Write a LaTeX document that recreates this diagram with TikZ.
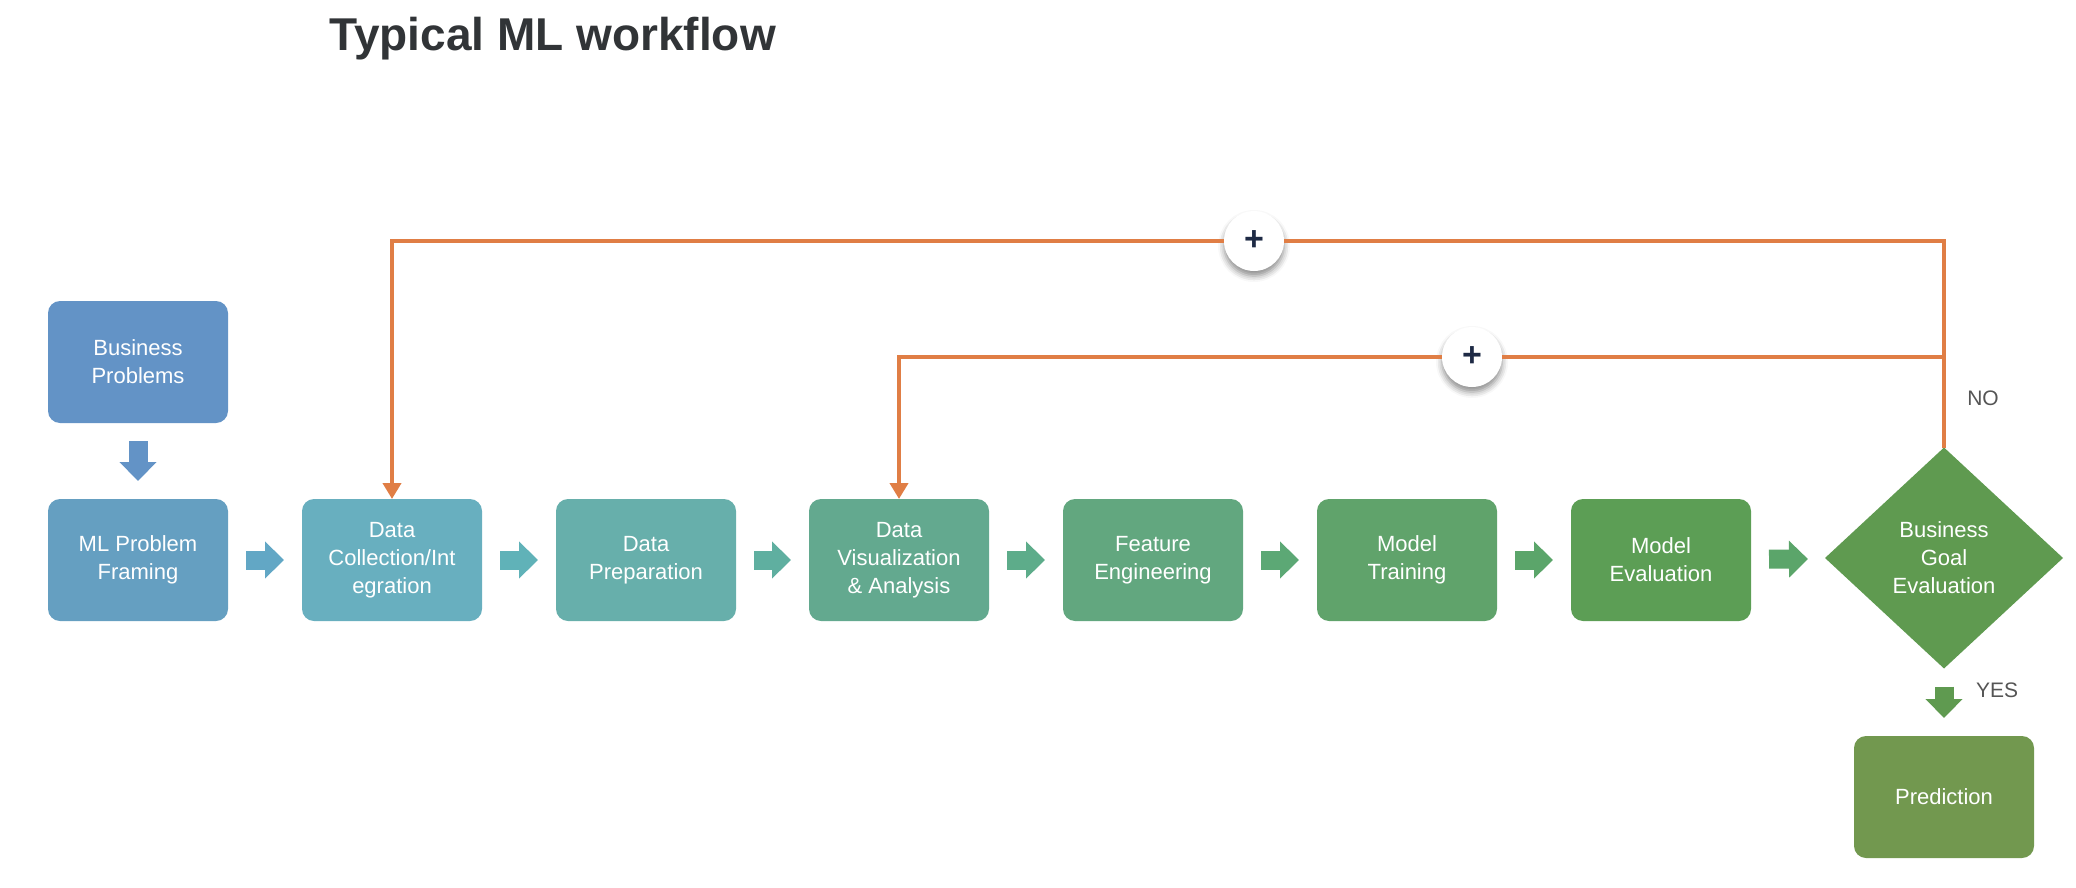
\documentclass[tikz,border=0pt]{standalone}
\usepackage{fontspec}
\setmainfont{Liberation Sans}
\usepackage{tikz}
\usetikzlibrary{positioning}
\usetikzlibrary{shapes.geometric}
\usetikzlibrary{arrows.meta}
\usetikzlibrary{shadows.blur}

\definecolor{titlegray}{HTML}{313437}
\definecolor{labelgray}{HTML}{555555}
\definecolor{loopcol}{HTML}{E07E45}
\definecolor{plusnavy}{HTML}{1E2A45}
\definecolor{bizcol}{HTML}{6393C6}
\definecolor{framecol}{HTML}{659FC1}
\definecolor{collectcol}{HTML}{68AFBF}
\definecolor{prepcol}{HTML}{67AFAB}
\definecolor{viscol}{HTML}{63A98F}
\definecolor{featcol}{HTML}{62A77F}
\definecolor{traincol}{HTML}{60A36B}
\definecolor{evalcol}{HTML}{5C9E55}
\definecolor{goalcol}{HTML}{5F9A50}
\definecolor{predcol}{HTML}{72984F}
\definecolor{arrowA}{HTML}{62A7C5}
\definecolor{arrowB}{HTML}{60B2B8}
\definecolor{arrowC}{HTML}{5FAFA0}
\definecolor{arrowD}{HTML}{5DAC8A}
\definecolor{arrowE}{HTML}{5CA875}
\definecolor{arrowF}{HTML}{5BA56A}

\tikzset{
	stage/.style={rounded corners=6pt, minimum width=90pt, minimum height=61pt, inner sep=0pt, outer sep=0pt,
		text=white, align=center, font=\fontsize{11}{14}\selectfont},
	decision/.style={diamond, aspect=1.077, minimum width=119pt, minimum height=110.5pt, inner sep=0pt, outer sep=0pt,
		text=white, align=center, font=\fontsize{11}{14}\selectfont},
	blockarrow/.style={line width=9.5pt, -{Triangle[width=18pt,length=9.5pt]}, shorten <=9pt, shorten >=9pt},
	feedback/.style={draw=loopcol, line width=2.2pt},
	feedarrow/.style={feedback, -{Triangle[width=9pt,length=8pt]}},
	plusdot/.style={circle, fill=white, minimum size=30pt, inner sep=0pt,
		blur shadow={shadow xshift=0pt, shadow yshift=-2.5pt, shadow blur radius=3pt, shadow opacity=45},
		text=plusnavy, font=\bfseries\fontsize{17}{17}\selectfont},
	answer/.style={text=labelgray, font=\fontsize{10.5}{12}\selectfont, inner sep=0pt}
}

\begin{document}
\begin{tikzpicture}[x=0.5pt,y=-0.5pt]
		\useasboundingbox (0,0) rectangle (2076,888);
		\node[anchor=base west, inner sep=0pt, text=titlegray, font=\bfseries\fontsize{23}{26}\selectfont] (title) at (329,51){Typical ML workflow};
		%
		\node[stage, fill=bizcol] (biz) at (138,362){Business\\Problems};
		\node[stage, fill=framecol] (frame) at (138,560){ML Problem\\Framing};
		\node[stage, fill=collectcol] (collect) at (392,560){Data\\Collection/Int\\egration};
		\node[stage, fill=prepcol] (prep) at (646,560){Data\\Preparation};
		\node[stage, fill=viscol] (visual) at (899,560){Data\\Visualization\\\& Analysis};
		\node[stage, fill=featcol] (feature) at (1153,560){Feature\\Engineering};
		\node[stage, fill=traincol] (train) at (1407,560){Model\\Training};
		\node[stage, fill=evalcol] (evalm) at (1661,560){Model\\Evaluation};
		\node[decision, fill=goalcol] (goal) at (1944,558){Business\\Goal\\Evaluation};
		\node[stage, fill=predcol] (predict) at (1944,797){Prediction};
		%
		\draw[blockarrow, draw=bizcol] (biz) -- (frame);
		\draw[blockarrow, draw=arrowA] (frame) -- (collect);
		\draw[blockarrow, draw=arrowB] (collect) -- (prep);
		\draw[blockarrow, draw=arrowC] (prep) -- (visual);
		\draw[blockarrow, draw=arrowD] (visual) -- (feature);
		\draw[blockarrow, draw=arrowE] (feature) -- (train);
		\draw[blockarrow, draw=arrowF] (train) -- (evalm);
		\draw[blockarrow, draw=arrowF] (evalm) -- (goal);
		\draw[blockarrow, draw=goalcol] (goal) -- (predict);
		%
		\node[plusdot] (plustop) at (1254,241){+};
		\node[plusdot] (plusmid) at (1472,357){+};
		\coordinate (split) at (goal.north |- plusmid);
		\draw[feedback] (goal.north) |- (plustop);
		\draw[feedarrow] (plustop) -| (collect.north);
		\draw[feedback] (split) -- (plusmid);
		\draw[feedarrow] (plusmid) -| (visual.north);
		%
		\node[answer] (no) at (1983,398){NO};
		\node[answer] (yes) at (1997,690){YES};
	\end{tikzpicture}
\end{document}
